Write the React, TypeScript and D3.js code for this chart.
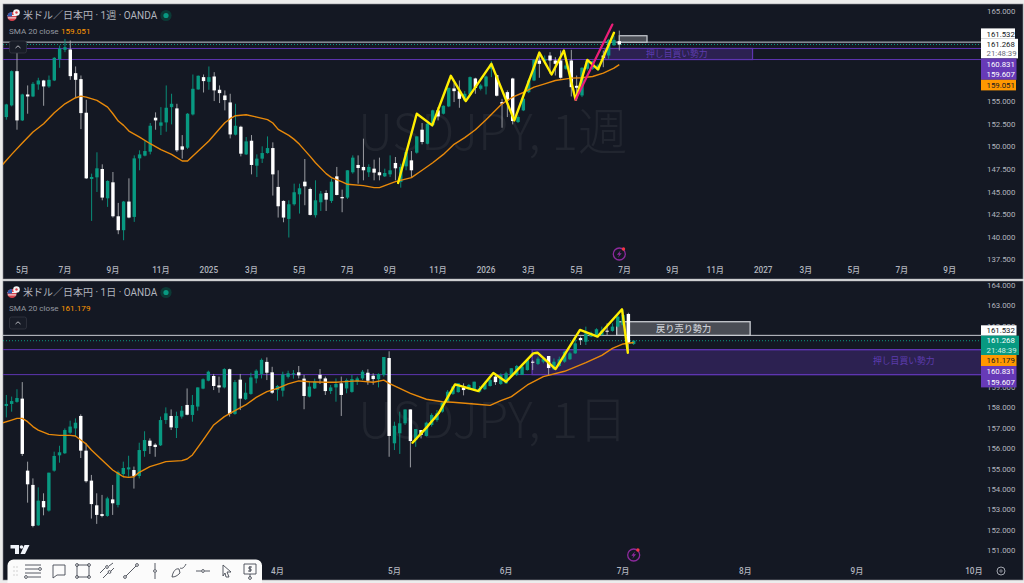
import * as d3 from "d3";

// weekly candles
const weeklyOpen = [153.24,154.53,158.32,152.87,155.74,155.52,156.85,157.29,156.63,157.29,159.65,160.68,160.72,158.1,157.44,153.72,146.39,146.57,147.49,144.25,146.02,142.26,140.72,143.89,142.19,148.67,148.97,149.41,153.17,152.28,152.65,154.34,154.2,150,149.85,153.53,156.3,157.66,157.14,157.73,156.26,155.63,154.86,151.29,152.17,149.11,150.62,147.86,148.64,149.26,149.81,145.51,143.96,141.97,143.59,144.69,146.09,145.28,142.38,143.81,144.84,143.96,146.68,144.4,144.33,147.13,147.94,147.72,147.13,147.53,147.13,146.68,146.9,148.16,146.06,147.79,148.45,149.3,151.84,150.29,152.35,153.98,153.61,154.42,156.41,156.11,155.08,155.74,157.51,156.37,156.63,158.58,157.88,154.9,156,157.51,152.69,153.98,156,157.29,159.5,159.43,160.05,159.5,159.5,158.58,159.5,156.7,155.63,158.58,158.58,158.47,160.05,160.05,161.19,161.64];
const weeklyClose = [154.64,158.32,152.87,155.74,155.52,156.92,157.29,156.63,157.36,159.8,160.83,160.97,157.77,157.36,153.68,146.46,146.61,147.57,144.33,146.17,142.26,140.72,143.89,142.12,148.67,149.11,149.48,152.28,152.87,152.65,154.27,154.71,149.56,149.63,153.61,156.37,157.81,157.22,157.66,156.19,155.89,155.12,151.32,152.28,149.19,150.55,147.94,148.64,149.26,149.81,146.9,143.37,142.12,143.59,144.92,145.36,145.58,142.41,144.03,144.77,144.1,146.09,144.62,144.25,147.35,148.75,147.6,147.35,147.72,147.09,146.8,147.05,147.35,147.57,147.72,149.37,147.35,151.1,150.48,152.5,153.98,153.31,154.49,156.48,156.11,155.26,155.82,157.66,156.48,156.74,157.73,159.13,155.6,154.71,155.08,152.8,153.24,155.27,157.29,159.57,159.13,159.68,159.5,159.13,157.59,158.95,156.55,156.48,158.69,159.5,159.43,158.95,159.8,161.78,161.78,161.27];
const weeklyHigh = [154.71,158.4,161.34,155.82,156.74,157.11,157.59,157.36,157.84,159.87,161.16,161.89,161.71,158.84,157.84,155.15,146.98,149.34,148.01,146.24,147.16,143.74,143.96,146.46,149,149.56,150.59,152.58,153.76,154.34,156.74,155.82,154.71,151.25,153.68,157.95,157.84,157.95,158.84,158.21,156.74,156.19,155.82,154.71,152.28,151.03,151.25,149.11,150,151.1,150.44,147.35,144.03,144.03,145.87,145.87,148.6,145.43,146.24,145.06,145.14,146.43,147.72,145.21,147.35,149,149,150.85,148.01,148.53,148.75,147.53,149,148.82,148.08,149.56,149.48,151.1,152.58,152.69,154.05,154.34,154.53,156.48,157,157.29,156.11,157.73,157.59,156.92,157.84,159.43,157.95,155.26,156.19,157.59,153.42,155.45,157.48,159.68,160.42,160.05,160.42,159.87,160.61,159.13,160.68,157.84,158.76,159.57,159.5,159.13,160.61,161.89,162.26,162.81];
const weeklyLow = [152.95,154.42,151.84,152.8,153.61,155.45,156.26,154.49,156.48,157.22,158.69,160.42,157.36,155.45,151.91,146.39,141.75,144.95,144.03,143.3,142.12,140.28,139.61,142.04,141.64,147.35,148.89,149.11,151.84,151.25,151.62,152.43,149.37,148.64,149.7,153.42,156.26,155.96,156.26,155.01,154.79,153.98,150.88,151.21,148.89,149.04,146.9,146.61,148.16,149.19,144.55,142.12,141.6,139.91,143.44,142.56,143.48,142.34,142.12,142.85,142.85,143.74,144.58,142.71,144.18,146.98,145.87,146.24,146.61,146.24,146.24,146.61,146.61,146.24,145.43,147.35,146.61,149.19,150.22,150.22,152.21,152.87,153.53,154.34,154.9,154.27,155.01,155.63,155.82,156.19,155.74,157.66,155.52,152.06,153.24,152.43,152.58,153.9,155.89,157.22,157.59,159.13,158.03,157.84,157.48,158.47,155.52,155.08,155.45,158.4,158.47,158.4,158.76,159.68,161.12,160.61];

// weekly sma read at sparse bars
const weeklySmaBars = [-1,1,3,5,7,9,11,13,14,15,17,19,20,21,22,23,25,27,29,31,33,34,36,38,40,41,42,43,45,47,49,50,51,53,54,55,57,58,60,61,63,64,67,69,70,71,73,76,78,80,82,84,86,88,90,93,95,97,99,101,103,106,108,110,112,114,115];
const weeklySmaValues = [147.79,149.11,150.37,151.58,152.5,153.72,154.71,155.38,155.56,155.45,155.08,154.34,153.61,152.8,152.32,151.69,151.03,150.29,149.63,149.11,148.38,148.38,149.48,150.59,151.95,152.61,153.06,153.39,153.5,153.24,152.95,152.58,151.88,151.21,150.77,150.22,148.89,148.19,146.98,146.54,146.06,145.8,145.65,145.43,145.43,145.65,146.09,146.54,147.35,148.19,149.11,150.22,150.96,151.84,152.95,154.71,155.45,155.96,156.55,156.92,157.29,157.55,157.59,157.73,158.1,158.65,159.05];

// daily candles
const dailyOpen = [158.07,158.17,158.27,158.43,154.9,154.2,152.22,153.41,152.94,154.9,155.65,155.75,156.76,156.97,157.58,155.88,154.41,153.2,152.77,152.68,153.49,153.22,154.73,154.96,154.93,154.64,155.86,156.37,156.17,156.14,157.38,157.58,156.99,157.55,158.12,157.63,158.04,158.92,159.31,159.54,159.08,158.98,159.87,157.68,159.36,158.4,158.66,159.42,159.64,160.23,159.72,158.85,158.82,159.5,159.62,159.72,159.41,158.53,158.93,159.6,159.42,158.8,158.98,159.18,158.93,158.76,159.26,159.42,159.7,159.55,159.38,159.59,160.42,156.24,156.73,157.22,157.9,156.4,156.89,156.6,157.14,157.38,157.79,158.28,158.66,158.75,158.98,158.89,158.89,158.77,158.89,159.05,159.51,159.15,159.18,159.51,159.59,159.59,159.83,160.24,160.13,160.24,160.52,159.87,160.03,160.24,160.36,160.65,161.4,161.22,161.47,161.47,161.55,161.76,161.75,161.96,162.04,162.58,161.11];
const dailyClose = [158.17,158.31,158.46,155.72,154.23,152.19,153.43,153.1,154.8,155.62,155.8,156.89,157.06,157.25,155.88,154.38,153.26,152.73,152.68,153.54,153.3,154.83,155.03,155.06,154.64,155.91,156.4,156.11,156.06,157.38,157.71,157.02,157.58,157.84,157.64,158.12,158.98,159.38,159.75,159.05,158.98,159.88,157.68,159.24,158.43,158.72,159.47,159.8,160.33,159.7,158.72,159.05,159.62,159.67,159.67,159.57,158.56,159.02,159.26,159.41,158.8,158.98,159.15,158.61,159.34,159.39,159.42,159.75,159.31,159.39,159.64,160.47,156.6,157.1,157.22,157.9,156.35,156.94,156.65,157.25,157.63,157.71,158.23,158.77,159.02,159.18,158.85,159.1,159.26,158.93,159.18,159.34,159.24,159.59,159.67,159.92,160.03,160,160.32,160.19,160.39,160.37,159.93,160.24,160.36,160.73,160.65,161.14,161.3,161.63,161.63,161.83,161.76,161.73,161.96,162.45,162.53,161.14,161.27];
const dailyHigh = [158.61,158.53,158.89,159.24,155.34,154.52,154.08,153.79,154.8,155.83,156.12,156.97,157.35,157.46,157.66,156.24,154.69,153.79,153.71,153.62,154.2,154.9,155.34,155.63,155.1,156.27,156.83,156.48,156.24,157.55,158,157.9,157.79,158.07,158.93,158.61,158.98,159.42,159.8,159.64,159.51,159.92,159.9,159.34,159.64,159.21,159.7,159.87,160.4,160.45,159.99,159.1,159.75,159.8,159.83,160.03,159.59,159.26,159.41,159.88,159.51,159.1,159.42,159.51,159.42,159.59,159.51,159.83,159.87,159.67,159.67,160.47,160.75,157.3,157.79,157.9,157.9,156.94,156.89,157.3,157.71,157.87,158.28,158.85,159.05,159.18,159.18,159.15,159.26,159.05,159.26,159.42,159.67,159.67,159.75,159.92,160.08,160.08,160.32,160.32,160.49,160.4,160.52,160.4,160.49,160.78,160.73,161.39,161.47,161.96,161.71,161.88,161.96,162.12,162.12,162.61,162.77,162.64,161.29];
const dailyLow = [157.51,157.79,158.23,155.62,153.33,152.12,152.19,152.71,152.89,154.85,155.29,155.72,156.7,156.57,155.52,154.31,152.55,152.29,152.61,152.64,152.73,153.1,154.6,154.6,154.02,154.52,155.58,155.72,155.58,156.11,157.19,156.89,156.5,157.45,157.61,157.3,157.84,158.89,159.28,158.85,158.72,158.93,157.55,157.64,157.87,158.36,158.62,159.18,159.42,159.34,158.66,158.33,158.53,159.42,159.41,159.42,157.91,158.49,158.9,159.15,158.61,158.66,158.28,157.58,158.69,158.72,159.1,159.34,159.11,159.11,158.98,159.51,155.58,155.91,155.72,157.14,155.06,156.07,156.48,156.57,157.06,157.3,157.74,158.23,158.61,158.72,158.59,158.85,158.82,158.72,158.85,159.02,159.1,159.1,159.15,159.47,159.54,159.59,159.8,159.83,160.08,160.16,159.54,159.83,159.99,160.19,160.32,160.62,161.06,161.06,161.44,161.44,161.52,161.55,161.71,161.92,161.99,160.68,161.06];

const dailySmaBars = [-1,1,2,3,4,5,6,8,10,12,13,14,15,16,18,20,21,22,23,24,25,27,29,30,33,34,35,37,39,41,43,45,47,49,51,53,55,57,60,62,63,66,69,71,72,74,76,79,82,84,88,91,93,95,98,101,105,109,112,114,116,118];
const dailySmaValues = [157.22,157.38,157.46,157.46,157.3,157.06,156.89,156.68,156.63,156.63,156.6,156.4,156.21,155.91,155.42,154.93,154.77,154.6,154.57,154.6,154.82,155.1,155.26,155.34,155.39,155.47,155.67,156.4,157.14,157.55,157.84,158.12,158.49,158.77,158.93,159.15,159.3,159.26,159.23,159.23,159.25,159.3,159.23,159.34,159.18,158.93,158.69,158.4,158.28,158.25,158.17,158.1,158.33,158.53,159.1,159.51,159.77,160.19,160.55,160.89,161.11,161.18];

// hand drawn zigzags, bar / price
const weeklyZigBars = [73.5,77,79.9,83.4,86.2,91,95.3,100,102.3,104.6,106.8,109,111,114];
const weeklyZigPrices = [145.95,153.61,152.32,157.81,155.01,159.13,152.87,160.38,157.95,160.61,155.15,159.57,158.51,162.56];
const weeklyPinkBars = [106.8,113.7];
const weeklyPinkPrices = [155.15,163.48];
const dailyZigBars = [76.4,79.2,81.3,84.4,88.8,91.6,94,99.1,99.9,103.3,107.9,111.2,115.8,116.9];
const dailyZigPrices = [156.27,157.06,157.71,159.13,158.8,159.69,159.26,160.65,160.68,159.88,161.8,161.47,162.81,160.68];

const weeklyTicks = [165,162.5,160,157.5,155,152.5,150,147.5,145,142.5,140,137.5];
const dailyTicks = [164,163,162,161,160,159,158,157,156,155,154,153,152,151];
const weeklyMonthBars = [3,11,20,29,38,46,55,64,72,81,90,98,107,116,125,133,142,150,159,168,177];
const weeklyMonthLabels = ["5月","7月","9月","11月","2025","3月","5月","7月","9月","11月","2026","3月","5月","7月","9月","11月","2027","3月","5月","7月","9月"];
const dailyMonthBars = [51,73,94,116,139,160,182];
const dailyMonthLabels = ["4月","5月","6月","7月","8月","9月","10月"];

const resistance = 161.532;
const lastPrice = 161.268;
const zoneTop = 160.831;
const zoneBottom = 159.607;

const UP = "#089981";
const PURPLE = "#5e35b1";
const BG = "#141823";
const TEXT = "#b2b5be";
const LEFT = 3;
const RIGHT = 981;
const SANS = "Roboto, 'Noto Sans CJK JP', sans-serif";
const JP = "'Noto Sans CJK JP', Roboto, sans-serif";

type Badge = { top: number; h: number; w: number; fill: string; lines: [string, string][] };

type PaneProps = {
  id: string;
  top: number;
  bottom: number;
  title: string;
  sma: string;
  watermark: string;
  watermarkY: number;
  open: number[];
  close: number[];
  high: number[];
  low: number[];
  smaBars: number[];
  smaValues: number[];
  zigBars: number[];
  zigPrices: number[];
  pinkBars?: number[];
  pinkPrices?: number[];
  ticks: number[];
  monthBars: number[];
  monthLabels: string[];
  yDomain: [number, number];
  yRange: [number, number];
  xRange: [number, number];
  axisY: number;
  badges: Badge[];
  boltY: number;
  boltBar: number;
  chevronY: number;
  zones: (x: d3.ScaleLinear<number, number>, y: d3.ScaleLinear<number, number>) => React.ReactNode;
};

function Pane(p: PaneProps) {
  const last = p.open.length - 1;
  const x = d3.scaleLinear().domain([0, last]).range(p.xRange);
  const y = d3.scaleLinear().domain(p.yDomain).range(p.yRange);
  const line = d3
    .line<[number, number]>()
    .x((d) => x(d[0]))
    .y((d) => y(d[1]));
  const smaPath = line(p.smaBars.map((b, i) => [b, p.smaValues[i]]));
  const zigPath = line(p.zigBars.map((b, i) => [b, p.zigPrices[i]]));
  const pinkPath = p.pinkBars ? line(p.pinkBars.map((b, i) => [b, p.pinkPrices![i]])) : null;
  const bodyW = 3.4;
  const titleY = p.top + 11.5;
  // ticks fully under the price badges are not visible
  const stackTop = p.badges[0].top;
  const stackBottom = p.badges[p.badges.length - 1].top + p.badges[p.badges.length - 1].h;
  const shownTicks = p.ticks.filter((t) => y(t) < stackTop + 1 || y(t) > stackBottom - 1);

  return (
    <g>
      <rect x={LEFT} y={p.top} width={1020} height={p.bottom - p.top} fill={BG} stroke="#8a8d93" strokeWidth={0.6} />
      <clipPath id={p.id}>
        <rect x={LEFT} y={p.top} width={RIGHT - LEFT} height={p.bottom - p.top} />
      </clipPath>

      <text x={358} y={p.watermarkY} fontFamily={JP} fontSize={49.5} fontWeight={300} fill="#21252f">
        {p.watermark}
      </text>

      <g clipPath={`url(#${p.id})`}>
        <line x1={LEFT} x2={RIGHT} y1={y(resistance)} y2={y(resistance)} stroke="#c9ccd2" strokeWidth={1} />
        <line x1={LEFT} x2={RIGHT} y1={y(lastPrice)} y2={y(lastPrice)} stroke={UP} strokeWidth={1} strokeDasharray="1 2" />
        <line x1={LEFT} x2={RIGHT} y1={y(zoneTop)} y2={y(zoneTop)} stroke={PURPLE} strokeWidth={1} />
        <line x1={LEFT} x2={RIGHT} y1={y(zoneBottom)} y2={y(zoneBottom)} stroke={PURPLE} strokeWidth={1} />
        {p.zones(x, y)}

        {p.open.map((o, i) => {
          const c = p.close[i];
          const color = c >= o ? UP : "#ffffff";
          const top = y(Math.max(o, c));
          const h = Math.max(1, Math.abs(y(o) - y(c)));
          return (
            <g key={i}>
              <line x1={x(i)} x2={x(i)} y1={y(p.high[i])} y2={y(p.low[i])} stroke={c >= o ? UP : "#a9abb0"} strokeWidth={0.9} />
              <rect x={x(i) - bodyW / 2} y={top} width={bodyW} height={h} fill={color} />
            </g>
          );
        })}

        <path d={smaPath ?? ""} fill="none" stroke="#e8890a" strokeWidth={1.4} strokeLinejoin="round" />
        <path d={zigPath ?? ""} fill="none" stroke="#ffee00" strokeWidth={2.4} strokeLinejoin="round" strokeLinecap="round" />
        {pinkPath && <path d={pinkPath} fill="none" stroke="#ec1e78" strokeWidth={2.2} strokeLinecap="round" />}
      </g>

      {/* legend */}
      <circle cx={12} cy={titleY + 1} r={4.6} fill="#d7424d" />
      <path d={`M7.6 ${titleY} h8.8 M7.8 ${titleY + 2.4} h8.4`} stroke="#f2f2f2" strokeWidth={1} />
      <path d={`M7.4 ${titleY + 1} a4.6 4.6 0 0 1 4.6 -4.6 v4.6 z`} fill="#2f5fb3" />
      <circle cx={16.5} cy={titleY - 3} r={3.3} fill="#f4f4f4" />
      <circle cx={16.5} cy={titleY - 3} r={1.2} fill="#d7424d" />
      <text x={23} y={titleY + 3.8} fontFamily={SANS} fontSize={10} fill={TEXT}>
        {p.title}
      </text>
      <circle cx={166} cy={titleY} r={5.6} fill="#0c3a36" />
      <circle cx={166} cy={titleY} r={2.6} fill={UP} />
      <text x={9} y={p.top + 30} fontFamily={SANS} fontSize={8.1} fill="#9598a1">
        SMA 20 close
      </text>
      <text x={61} y={p.top + 30} fontFamily={SANS} fontSize={8.1} fill="#ff9800">
        {p.sma}
      </text>
      <rect x={9.5} y={p.chevronY} width={17} height={12} rx={2} fill="#181c27" stroke="#363a45" strokeWidth={0.7} />
      <path d={`M15.5 ${p.chevronY + 7} l2.5 -2.2 l2.5 2.2`} fill="none" stroke="#c4c6cc" strokeWidth={0.9} />

      {/* price axis */}
      {shownTicks.map((t) => (
        <text key={t} x={987} y={y(t) + 3} fontFamily={SANS} fontSize={7.8} fill={TEXT}>
          {d3.format(".3f")(t)}
        </text>
      ))}
      {p.badges.map((b) => (
        <g key={b.top}>
          <rect x={981} y={b.top} width={b.w} height={b.h} fill={b.fill} />
          {b.lines.map(([s, color], i) => (
            <text key={s} x={986.5} y={b.top + (b.h / b.lines.length) * (i + 0.5) + 2.9} fontFamily={SANS} fontSize={7.8} fill={color}>
              {s}
            </text>
          ))}
        </g>
      ))}

      {/* time axis */}
      {p.monthBars.map((b, i) => (
        <text key={b} x={x(b)} y={p.axisY} textAnchor="middle" fontFamily={SANS} fontSize={8.2} fontWeight={500} fill={TEXT}>
          {p.monthLabels[i]}
        </text>
      ))}

      {/* alert bolt */}
      <g transform={`translate(${x(p.boltBar)},${p.boltY})`}>
        <circle r={6} fill="none" stroke="#8e2a9e" strokeWidth={1.3} />
        <path d="M1.4 -3.8 L-2.4 0.7 H-0.2 L-1.4 3.8 L2.4 -0.7 H0.2 Z" fill="#8e2a9e" />
        <circle cx={4.2} cy={-5} r={1.7} fill="#f23645" />
      </g>
    </g>
  );
}

const dot = (cx: number, cy: number) => `M${cx - 1.4} ${cy} a1.4 1.4 0 1 0 2.8 0 a1.4 1.4 0 1 0 -2.8 0`;

const toolbarIcons = [
  `M-9 -6 H7 M-9 -2 H4 M-9 2 H7 M-6 6 H7 ${dot(6, -2)} ${dot(-8, 6)}`,
  "M-6 -6 H6 V4 H-2 L-6 7 Z",
  `M-5.5 -6 H5.5 M-5.5 6 H5.5 M-6 -5 V5 M6 -5 V5 ${dot(-6, -6)} ${dot(6, -6)} ${dot(-6, 6)} ${dot(6, 6)}`,
  `M-7 2 L-2 -3 M2 -5 L6 -8 M-4 7 L1 2 M4 0 L7 -3 ${dot(0, -4)} ${dot(2.5, 1)}`,
  `M-5 5 L5 -5 ${dot(-6, 6)} ${dot(6, -6)}`,
  `M0 -8 V-2 M0 2 V8 ${dot(0, 0)}`,
  "M-7 6 C-6 0 -3 -3 0 -2 L1 2 C-2 5 -4 6 -7 6 M1 -3 C3 -2 5 -3 7 -7",
  `M-7 0 H-2 M2 0 H7 ${dot(0, 0)}`,
  "M-3 -6 L5 1 H1 L3 6 L0 6 L-1 2 L-3 5 Z",
  `M-6 -7 H6 V3 H-6 Z M0 3 V6 M2 -4 H-1 V-2 H1 V0 H-2 M0 -5 V1 ${dot(0, 7)}`,
];

const toolbarIconX = [34, 59, 83, 107, 131, 155, 179, 203, 226, 250];

export default function App() {
  return (
    <svg
      width={1024}
      height={583}
      viewBox="0 0 1024 583"
      style={{ position: "absolute", left: 0, top: 0, display: "block", background: "#ececec" }}
    >
      <Pane
        id="weeklyClip"
        top={4}
        bottom={279}
        title="米ドル／日本円 · 1週 · OANDA"
        sma="159.051"
        watermark="USDJPY, 1週"
        watermarkY={150}
        open={weeklyOpen}
        close={weeklyClose}
        high={weeklyHigh}
        low={weeklyLow}
        smaBars={weeklySmaBars}
        smaValues={weeklySmaValues}
        zigBars={weeklyZigBars}
        zigPrices={weeklyZigPrices}
        pinkBars={weeklyPinkBars}
        pinkPrices={weeklyPinkPrices}
        ticks={weeklyTicks}
        monthBars={weeklyMonthBars}
        monthLabels={weeklyMonthLabels}
        yDomain={[165, 137.5]}
        yRange={[10.8, 259.3]}
        xRange={[6.33, 619.3]}
        axisY={273}
        boltBar={115}
        boltY={254}
        chevronY={41}
        badges={[
          { top: 28.4, h: 10.4, w: 34, fill: "#ffffff", lines: [["161.532", "#131722"]] },
          { top: 38.8, h: 19.6, w: 37, fill: "#ffffff", lines: [["161.268", "#131722"], ["21:48:39", "#6a6d78"]] },
          { top: 58.4, h: 21.4, w: 35.5, fill: "#673ab7", lines: [["160.831", "#ffffff"], ["159.607", "#ffffff"]] },
          { top: 79.8, h: 10.6, w: 35, fill: "#ff9800", lines: [["159.051", "#131722"]] },
        ]}
        zones={(x, y) => (
          <>
            <rect x={x(115)} y={y(162.24)} width={x(120.2) - x(115)} height={y(resistance) - y(162.24)} fill="#4a4d55" stroke="#c9ccd2" strokeWidth={1.2} />
            <rect x={x(112.3)} y={y(zoneTop)} width={x(140) - x(112.3)} height={y(zoneBottom) - y(zoneTop)} fill={PURPLE} fillOpacity={0.33} stroke={PURPLE} strokeWidth={1.2} />
            <text x={x(125.8)} y={y(zoneBottom) - 2.6} textAnchor="middle" fontFamily={JP} fontSize={8.8} fill="#5d3cae">
              押し目買い勢力
            </text>
          </>
        )}
      />

      <Pane
        id="dailyClip"
        top={281}
        bottom={580}
        title="米ドル／日本円 · 1日 · OANDA"
        sma="161.179"
        watermark="USDJPY, 1日"
        watermarkY={438}
        open={dailyOpen}
        close={dailyClose}
        high={dailyHigh}
        low={dailyLow}
        smaBars={dailySmaBars}
        smaValues={dailySmaValues}
        zigBars={dailyZigBars}
        zigPrices={dailyZigPrices}
        ticks={dailyTicks}
        monthBars={dailyMonthBars}
        monthLabels={dailyMonthLabels}
        yDomain={[164, 151]}
        yRange={[285, 550.2]}
        xRange={[6.33, 633.7]}
        axisY={574}
        boltBar={118}
        boltY={555}
        chevronY={317}
        badges={[
          { top: 325.3, h: 10.4, w: 35.5, fill: "#ffffff", lines: [["161.532", "#131722"]] },
          { top: 335.7, h: 19.3, w: 38, fill: UP, lines: [["161.268", "#ffffff"], ["21:48:39", "#c8efe4"]] },
          { top: 355, h: 11, w: 35.5, fill: "#ff9800", lines: [["161.179", "#131722"]] },
          { top: 366, h: 21.4, w: 35.5, fill: "#673ab7", lines: [["160.831", "#ffffff"], ["159.607", "#ffffff"]] },
        ]}
        zones={(x, y) => (
          <>
            <rect x={x(98.9)} y={y(zoneTop)} width={x(190) - x(98.9)} height={y(zoneBottom) - y(zoneTop)} fill={PURPLE} fillOpacity={0.33} stroke={PURPLE} strokeWidth={1.3} />
            <rect x={x(114.8)} y={y(162.2)} width={x(139.9) - x(114.8)} height={y(resistance) - y(162.2)} fill="#4a4d55" stroke="#c9ccd2" strokeWidth={1.3} />
            <text x={x(127.4)} y={y(resistance) - 3.4} textAnchor="middle" fontFamily={JP} fontSize={9.2} fontWeight={500} fill="#c9ccd2">
              戻り売り勢力
            </text>
            <text x={x(168.8)} y={y(zoneBottom) - 11} textAnchor="middle" fontFamily={JP} fontSize={8.8} fill="#5d3cae">
              押し目買い勢力
            </text>
          </>
        )}
      />

      {/* settings ring next to the price scale */}
      <circle cx={1001} cy={571} r={4} fill="none" stroke={TEXT} strokeWidth={0.9} />
      <circle cx={1001} cy={571} r={1.2} fill="none" stroke={TEXT} strokeWidth={0.7} />

      {/* tv logo */}
      <path d="M10.5 545 H19 V554 H15 V548.6 H10.5 Z M24.5 545 H29.5 L25 554 H20.5 Z" fill="#f0f3fa" />
      <circle cx={21.5} cy={547} r={1.8} fill="#f0f3fa" />

      {/* drawing toolbar */}
      <path d="M7.5 583 V565.5 a6 6 0 0 1 6 -6 H256 a6 6 0 0 1 6 6 V583 Z" fill="#fbfbfb" />
      <g fill="#c6c6c6">
        {[567, 571, 575].map((cy) =>
          [14, 17].map((cx) => <circle key={`${cx}-${cy}`} cx={cx} cy={cy} r={0.7} />)
        )}
      </g>
      {toolbarIcons.map((d, i) => (
        <path key={i} transform={`translate(${toolbarIconX[i]},571)`} d={d} fill="none" stroke="#444852" strokeWidth={0.9} />
      ))}
    </svg>
  );
}
